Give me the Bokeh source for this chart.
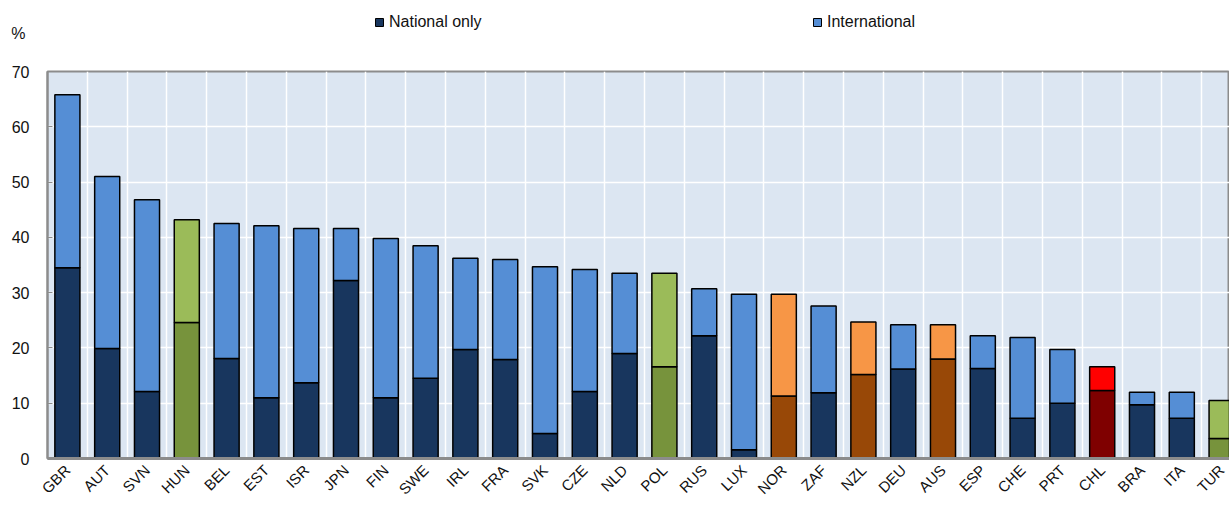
import numpy as np
from bokeh.plotting import figure
from bokeh.layouts import column
from bokeh.models import ColumnDataSource, FixedTicker, Legend, LegendItem, Range1d
from bokeh.embed import file_html
from bokeh.resources import INLINE

countries = ["GBR", "AUT", "SVN", "HUN", "BEL", "EST", "ISR", "JPN", "FIN", "SWE",
             "IRL", "FRA", "SVK", "CZE", "NLD", "POL", "RUS", "LUX", "NOR", "ZAF",
             "NZL", "DEU", "AUS", "ESP", "CHE", "PRT", "CHL", "BRA", "ITA", "TUR"]
national_only = [34.5, 19.9, 12.1, 24.6, 18.1, 11.0, 13.7, 32.2, 11.0, 14.5,
                 19.7, 17.9, 4.5, 12.1, 19.0, 16.6, 22.2, 1.6, 11.3, 11.9,
                 15.2, 16.2, 18.0, 16.3, 7.3, 10.0, 12.3, 9.7, 7.3, 3.6]
international = [31.3, 31.1, 34.7, 18.6, 24.4, 31.1, 27.9, 9.4, 28.8, 24.0,
                 16.5, 18.1, 30.2, 22.1, 14.5, 16.9, 8.5, 28.1, 18.4, 15.7,
                 9.5, 8.0, 6.2, 5.9, 14.6, 9.7, 4.3, 2.3, 4.7, 6.9]
y_ticks = [0, 10, 20, 30, 40, 50, 60, 70]
series_labels = ["National only", "International"]
unit_label = "%"

# styling
palette = {
    "default": ("#18365e", "#558ed5"),
    "green": ("#77933c", "#9bbb59"),
    "orange": ("#984807", "#f79646"),
    "red": ("#7f0000", "#ff0000"),
}
highlight = {"HUN": "green", "POL": "green", "TUR": "green",
             "NOR": "orange", "NZL": "orange", "AUS": "orange", "CHL": "red"}

xs = np.arange(len(countries))
nat = np.array(national_only)
intl = np.array(international)
total = nat + intl
nat_col = [palette[highlight.get(c, "default")][0] for c in countries]
int_col = [palette[highlight.get(c, "default")][1] for c in countries]

src = ColumnDataSource(dict(x=xs, nat=nat, total=total, nat_col=nat_col,
                            int_col=int_col, zero=np.zeros(len(xs))))

FONT = "Liberation Sans"
TXT = "#111111"
W = 1229
H1 = 44            # header (legend + unit)
H2 = 506 - H1      # main chart
BL, BT, BB = 47, 71 - H1, 48
cat_px = 39.8
x_end = -0.5 + (W - BL) / cat_px

# ---------- header: legend and unit label ----------
h = figure(width=W, height=H1, output_backend="svg", toolbar_location=None,
           x_range=Range1d(BL, W), y_range=Range1d(0, H1), x_axis_type=None,
           min_border_left=BL, min_border_right=0, min_border_top=0, min_border_bottom=0)
h.outline_line_color = None
h.background_fill_color = "white"
h.border_fill_color = "white"
h.grid.visible = False
h.yaxis.ticker = FixedTicker(ticks=[H1 - 33])
h.yaxis.major_label_overrides = {H1 - 33: unit_label}
h.yaxis.axis_line_color = None
h.yaxis.major_tick_line_color = None
h.yaxis.major_tick_out = 0
h.yaxis.major_tick_in = 0
h.yaxis.minor_tick_line_color = None
h.yaxis.major_label_text_font = FONT
h.yaxis.major_label_text_font_size = "16px"
h.yaxis.major_label_text_color = TXT
h.yaxis.major_label_standoff = 22

hr_nat = h.vbar(x="x", bottom="zero", top="nat", width=0.63, source=src,
                fill_color="nat_col", line_color="black", line_width=1, visible=False)
hr_int = h.vbar(x="x", bottom="nat", top="total", width=0.63, source=src,
                fill_color="int_col", line_color="black", line_width=1, visible=False)

for r, lab, lx in [(hr_nat, series_labels[0], 374 - BL), (hr_int, series_labels[1], 812 - BL)]:
    lg = Legend(items=[LegendItem(label=lab, renderers=[r], index=0)],
                location=(lx, 13), orientation="horizontal",
                glyph_width=10, glyph_height=10, label_standoff=5,
                padding=0, margin=0, label_text_font=FONT,
                label_text_font_size="16px", label_text_color=TXT,
                background_fill_alpha=0, border_line_color=None)
    h.add_layout(lg, "center")

# ---------- main chart ----------
p = figure(width=W, height=H2, output_backend="svg", toolbar_location=None,
           x_range=Range1d(-0.5, x_end), y_range=Range1d(0, 70),
           min_border_left=BL, min_border_right=0, min_border_top=BT,
           min_border_bottom=BB)
p.background_fill_color = "#dce6f2"
p.border_fill_color = "white"
p.outline_line_color = "#8c8c8c"
p.outline_line_width = 2

p.vbar(x="x", bottom="zero", top="nat", width=0.63, source=src,
       fill_color="nat_col", line_color="black", line_width=1.5)
p.vbar(x="x", bottom="nat", top="total", width=0.63, source=src,
       fill_color="int_col", line_color="black", line_width=1.5)

p.xaxis.ticker = FixedTicker(ticks=list(xs))
p.xaxis.major_label_overrides = {int(i): c for i, c in zip(xs, countries)}
p.xaxis.major_label_orientation = np.pi / 4
p.xaxis.major_tick_line_color = None
p.xaxis.minor_tick_line_color = None
p.xaxis.axis_line_color = "#8c8c8c"
p.xaxis.axis_line_width = 3
p.xaxis.major_label_text_font = FONT
p.xaxis.major_label_text_font_size = "15px"
p.xaxis.major_label_text_color = TXT
p.xaxis.major_label_standoff = 3

p.yaxis.ticker = FixedTicker(ticks=y_ticks)
p.yaxis.major_tick_in = 5
p.yaxis.major_tick_out = 0
p.yaxis.major_tick_line_color = "#8c8c8c"
p.yaxis.minor_tick_line_color = None
p.yaxis.axis_line_color = "#8c8c8c"
p.yaxis.axis_line_width = 2
p.yaxis.major_label_text_font = FONT
p.yaxis.major_label_text_font_size = "16px"
p.yaxis.major_label_text_color = TXT
p.yaxis.major_label_standoff = 18

p.ygrid.grid_line_color = "white"
p.ygrid.grid_line_width = 1.5
p.xgrid.ticker = FixedTicker(ticks=[i + 0.5 for i in range(len(countries))])
p.xgrid.grid_line_color = "white"
p.xgrid.grid_line_width = 1.5

layout = column(h, p, spacing=0)
open("out.html", "w").write(file_html(layout, INLINE))
